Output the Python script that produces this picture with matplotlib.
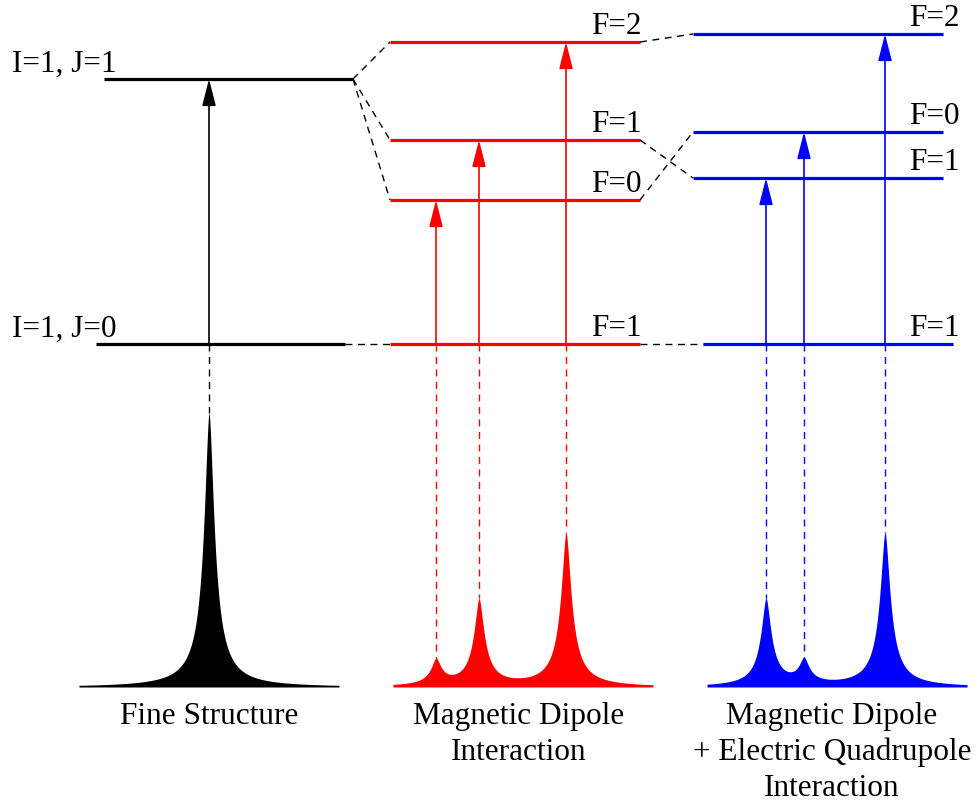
import numpy as np
import matplotlib
matplotlib.use("Agg")
import matplotlib.pyplot as plt

# --- data (pixel coordinates of the original drawing) ---
base_y = 687
ground_y = 344

# fine structure
fs_level_y = [79, 344]
fs_level_x = [(104, 353), (96, 345)]
fs_labels = ["I=1, J=1", "I=1, J=0"]
fs_peak_x = [209]
fs_peak_h = [274]
fs_span = (79, 339)

# magnetic dipole (red)
md_level_y = [42, 140, 200]
md_labels = ["F=2", "F=1", "F=0"]
md_x = (390, 640)
md_peak_x = [436, 479, 566]
md_peak_top = [200, 140, 42]       # level each arrow reaches
md_peak_h = [25, 86, 154]
md_span = (393, 653)

# dipole + quadrupole (blue)
eq_level_y = [34, 132, 178]
eq_labels = ["F=2", "F=0", "F=1"]
eq_x = (693, 943)
eq_ground_x = (703, 953)
eq_peak_x = [766, 804, 885]
eq_peak_top = [178, 132, 34]
eq_peak_h = [87, 24, 154]
eq_span = (707, 967)

captions = [(209, ["Fine Structure"]),
            (519, ["Magnetic Dipole", "Interaction"]),
            (832, ["Magnetic Dipole", "+ Electric Quadrupole", "Interaction"])]

FONT = "Liberation Serif"
FS = 22.5
DASH = (0, (5, 4))

fig = plt.figure(figsize=(9.78, 8.05), dpi=100)
ax = fig.add_axes([0, 0, 1, 1])
ax.set_xlim(0, 978)
ax.set_ylim(805, 0)
ax.axis("off")


def shape(x, x0, h, g=6.5, p=1.7):
    return h / (1 + np.abs((x - x0) / g) ** p)


def spectrum(span, centers, heights, color):
    x = np.linspace(span[0], span[1], 2000)
    y = np.zeros_like(x)
    for c, h in zip(centers, heights):
        y += shape(x, c, h)
    ax.fill_between(x, base_y, base_y - y, color=color, lw=0)
    # peak tops for the dashed guides
    tops = []
    for c in centers:
        yy = sum(shape(np.array([c]), cc, hh)[0] for cc, hh in zip(centers, heights))
        tops.append(base_y - yy)
    return tops


def arrow(x, y0, y1, color):
    ax.annotate("", xy=(x, y1), xytext=(x, y0),
                arrowprops=dict(arrowstyle="-|>,head_length=1.65,head_width=0.42",
                                color=color, lw=1.2, shrinkA=0, shrinkB=0,
                                mutation_scale=10))


def label(x, y, s, ha="right"):
    ax.text(x, y, s, ha=ha, va="baseline", fontsize=FS, family=FONT)


# fine structure
for (x0, x1), y in zip(fs_level_x, fs_level_y):
    ax.plot([x0, x1], [y, y], color="black", lw=2.3, solid_capstyle="butt")
for s, y in zip(fs_labels, fs_level_y):
    label(12, y - 7, s, ha="left")
tops = spectrum(fs_span, fs_peak_x, fs_peak_h, "black")
arrow(fs_peak_x[0], ground_y, fs_level_y[0], "black")
ax.plot([fs_peak_x[0]] * 2, [ground_y, tops[0]], color="black", lw=1, ls=DASH)

# connections fine -> red
for y in md_level_y:
    ax.plot([fs_level_x[0][1], md_x[0]], [fs_level_y[0], y], color="black", lw=1, ls=DASH)
ax.plot([fs_level_x[1][1], md_x[0]], [ground_y, ground_y], color="black", lw=1, ls=DASH)

# red
for y, s in zip(md_level_y + [ground_y], md_labels + ["F=1"]):
    ax.plot(md_x, [y, y], color="red", lw=2.3, solid_capstyle="butt")
    label(md_x[1] + 2, y - 8, s)
tops = spectrum(md_span, md_peak_x, md_peak_h, "red")
for x, yt, pt in zip(md_peak_x, md_peak_top, tops):
    arrow(x, ground_y, yt, "red")
    ax.plot([x, x], [ground_y, pt], color="red", lw=1, ls=DASH)

# connections red -> blue
order = [0, 2, 1]  # F=2->F=2, F=1->F=1, F=0->F=0
for i, j in zip(range(3), order):
    ax.plot([md_x[1], eq_x[0]], [md_level_y[i], eq_level_y[j]], color="black", lw=1, ls=DASH)
ax.plot([md_x[1], eq_ground_x[0]], [ground_y, ground_y], color="black", lw=1, ls=DASH)

# blue
for y, s in zip(eq_level_y, eq_labels):
    ax.plot(eq_x, [y, y], color="blue", lw=2.3, solid_capstyle="butt")
    label(eq_x[1] + 17, y - 8, s)
ax.plot(eq_ground_x, [ground_y, ground_y], color="blue", lw=2.3, solid_capstyle="butt")
label(eq_ground_x[1] + 7, ground_y - 8, "F=1")
tops = spectrum(eq_span, eq_peak_x, eq_peak_h, "blue")
for x, yt, pt in zip(eq_peak_x, eq_peak_top, tops):
    arrow(x, ground_y, yt, "blue")
    ax.plot([x, x], [ground_y, pt], color="blue", lw=1, ls=DASH)

# captions
for cx, lines in captions:
    for k, s in enumerate(lines):
        ax.text(cx, 724 + 36 * k, s, ha="center", va="baseline", fontsize=FS, family=FONT)

fig.savefig("out.png", dpi=100, facecolor="white")
